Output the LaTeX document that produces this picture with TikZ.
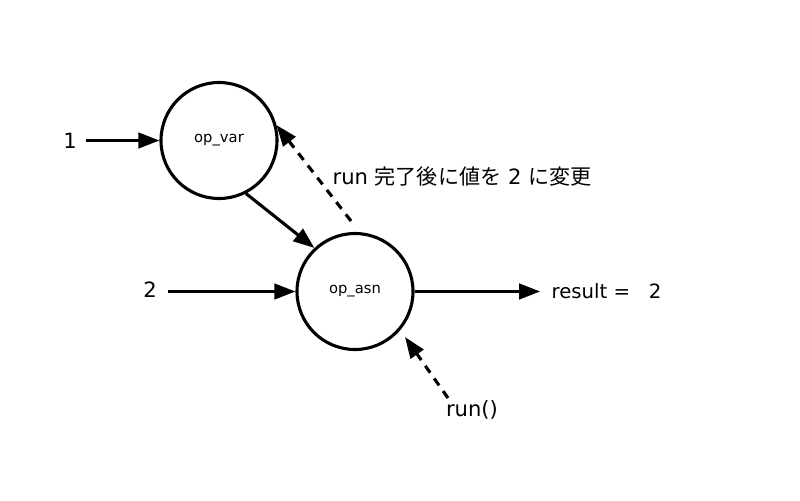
\documentclass[tikz,border=0pt]{standalone}
\usepackage{fontspec}
\setmainfont{DejaVu Sans}
\newfontfamily\cjk{Noto Sans CJK JP}
\usetikzlibrary{arrows.meta}

\begin{document}
\begin{tikzpicture}[
    x=0.025cm, y=-0.025cm,
    op/.style={circle, draw, line width=2.2pt, minimum size=116*0.025cm, inner sep=0pt, font=\fontsize{10.5}{12}\selectfont},
    lbl/.style={inner sep=1pt, font=\fontsize{15}{18}\selectfont},
    flow/.style={-{Triangle[length=15pt, width=11pt]}, line width=2.2pt},
    note/.style={flow, dashed, dash pattern=on 6pt off 5pt}
]
\useasboundingbox (0,0) rectangle (800,500);

% Operations
\node[op] (var) at (219,140.5) {op\_var};
\node[op] (asn) at (355,291.5) {op\_asn};

% Inputs and result
\node[lbl] (one) at (70,141) {1};
\node[lbl] (two) at (150,290) {2};
\node[lbl, anchor=west, font=\fontsize{14}{17}\selectfont] (res) at (550,291.5) {result =\ \ \ 2};
\node[lbl] (run) at (472,410) {run()};
\node[lbl, anchor=west] (msg) at (331,177) {run {\cjk 完了後に値を} 2 {\cjk に変更}};

% Arrows
\draw[flow] (one.east |- var.west) ++(8,0) coordinate (oneout) -- (var.west);
\draw[flow] (two.east |- asn.west) ++(10,0) coordinate (twoout) -- (asn.west);
\draw[flow] (var.-63) -- (asn.133);
\draw[flow, shorten >=7pt] (asn.east) -- (asn.east -| res.west);

% Dashed notes
\coordinate (msgout) at (351,221);
\coordinate (runout) at (448,398);
\draw[note] (msgout) -- (var.15);
\draw[note] (runout) -- (405,337);

\end{tikzpicture}
\end{document}
